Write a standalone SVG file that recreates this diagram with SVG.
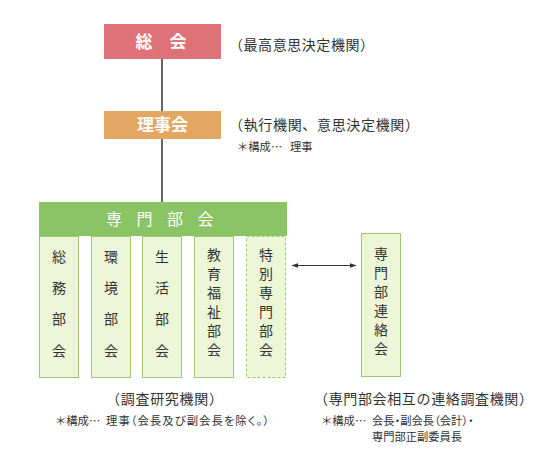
<svg xmlns="http://www.w3.org/2000/svg" width="548" height="458" viewBox="0 0 548 458">
<defs>
<style>
text{font-family:"Noto Sans CJK JP","Noto Sans",sans-serif;}
.w{fill:#fff;}
.sub{fill:#EEF6D8;stroke:#9CC878;stroke-width:1;}
.v{font-size:14px;fill:#333;text-anchor:middle;}
.note{font-size:14px;fill:#333;}
.sm{font-size:11.3px;fill:#333;}
.p{font-feature-settings:"palt";}
.conn{stroke:#666;stroke-width:2;fill:none;}
</style>
<marker id="ah" viewBox="0 0 10 10" refX="9" refY="5" markerWidth="7" markerHeight="7" orient="auto-start-reverse" markerUnits="userSpaceOnUse">
<path d="M0,1.5 L10,5 L0,8.5 z" fill="#333"/>
</marker>
</defs>
<rect width="548" height="458" fill="#fff"/>
<g id="connectors">
<line class="conn" x1="162" y1="59" x2="162" y2="111"/>
<line class="conn" x1="162" y1="139" x2="162" y2="202"/>
<line x1="292" y1="265.5" x2="356" y2="265.5" stroke="#333" stroke-width="1" marker-start="url(#ah)" marker-end="url(#ah)"/>
</g>
<g id="sokai">
<rect x="104" y="24" width="117" height="35" fill="#DF7279"/>
<text class="w" x="135.5" y="48" font-size="17" font-weight="bold" letter-spacing="17">総会</text>
<text class="note" x="229" y="50" textLength="145" lengthAdjust="spacing">（最高意思決定機関）</text>
</g>
<g id="rijikai">
<rect x="104" y="111" width="117" height="28" fill="#E3A663"/>
<text class="w" x="162.5" y="131" font-size="17" font-weight="bold" text-anchor="middle">理事会</text>
<text class="note" x="229" y="130" textLength="190" lengthAdjust="spacing">（執行機関、意思決定機関）</text>
<text class="sm" x="237" y="151">＊構成…</text>
<text class="sm" x="290" y="151">理事</text>
</g>
<g id="senmonbukai">
<rect x="39" y="202" width="248" height="34" fill="#8BC465"/>
<text class="w" x="106" y="225" font-size="16" letter-spacing="14.5">専門部会</text>
</g>
<g id="somubukai">
<rect class="sub" x="39.5" y="236.5" width="39" height="141"/>
<text class="v"><tspan x="59" y="262">総</tspan><tspan x="59" y="293">務</tspan><tspan x="59" y="324">部</tspan><tspan x="59" y="356">会</tspan></text>
</g>
<g id="kankyobukai">
<rect class="sub" x="91.5" y="236.5" width="39" height="141"/>
<text class="v"><tspan x="111" y="262">環</tspan><tspan x="111" y="293">境</tspan><tspan x="111" y="324">部</tspan><tspan x="111" y="356">会</tspan></text>
</g>
<g id="seikatsubukai">
<rect class="sub" x="142.5" y="236.5" width="39" height="141"/>
<text class="v"><tspan x="162" y="262">生</tspan><tspan x="162" y="293">活</tspan><tspan x="162" y="324">部</tspan><tspan x="162" y="356">会</tspan></text>
</g>
<g id="kyoikufukushibukai">
<rect class="sub" x="194.5" y="236.5" width="39" height="141"/>
<text class="v"><tspan x="214" y="260">教</tspan><tspan x="214" y="279">育</tspan><tspan x="214" y="298">福</tspan><tspan x="214" y="317">祉</tspan><tspan x="214" y="336">部</tspan><tspan x="214" y="355">会</tspan></text>
</g>
<g id="tokubetsusenmonbukai">
<rect class="sub" x="246.5" y="236.5" width="39" height="141" stroke-dasharray="3,2"/>
<text class="v"><tspan x="266" y="260">特</tspan><tspan x="266" y="279">別</tspan><tspan x="266" y="298">専</tspan><tspan x="266" y="317">門</tspan><tspan x="266" y="336">部</tspan><tspan x="266" y="355">会</tspan></text>
</g>
<g id="renrakukai">
<rect class="sub" x="361.5" y="233.5" width="39" height="143"/>
<text class="v"><tspan x="381" y="259">専</tspan><tspan x="381" y="278">門</tspan><tspan x="381" y="297">部</tspan><tspan x="381" y="316">連</tspan><tspan x="381" y="335">絡</tspan><tspan x="381" y="354">会</tspan></text>
</g>
<g id="notes">
<text class="note" x="106" y="404" textLength="117" lengthAdjust="spacing">（調査研究機関）</text>
<text class="sm" x="55" y="425">＊構成…</text>
<text class="sm p" x="106" y="425" textLength="163" lengthAdjust="spacing">理事（会長及び副会長を除く。）</text>
<text class="note" x="314" y="404" textLength="219" lengthAdjust="spacing">（専門部会相互の連絡調査機関）</text>
<text class="sm" x="321" y="425">＊構成…</text>
<text class="sm p" x="372" y="425">会長・副会長（会計）・</text>
<text class="sm" x="372" y="441" textLength="90" lengthAdjust="spacing">専門部正副委員長</text>
</g>
</svg>
